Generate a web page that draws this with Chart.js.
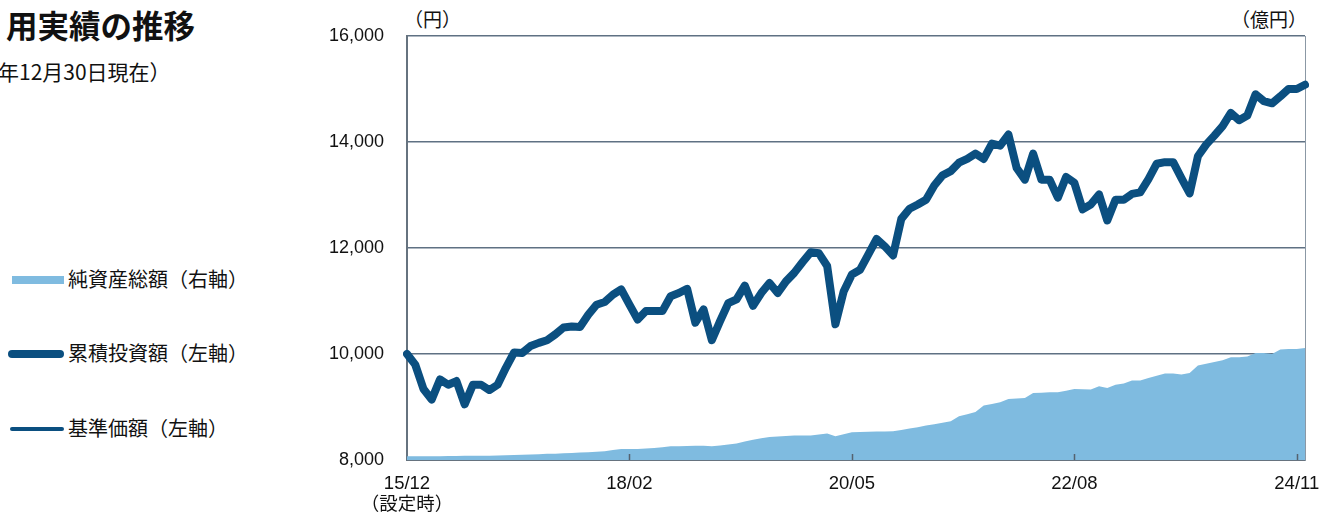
<!DOCTYPE html>
<html lang="ja">
<head>
<meta charset="utf-8">
<script src="https://cdn.jsdelivr.net/npm/chart.js@4.4.1/dist/chart.umd.min.js"></script>
<style>
  html, body { margin: 0; padding: 0; background: #fff; }
  body { width: 1321px; height: 513px; position: relative; overflow: hidden;
         font-family: 'Noto Sans CJK JP', 'Liberation Sans', sans-serif; color: #111; }
  #wrap { position: absolute; left: 0; top: 0; width: 1321px; height: 513px; }
  .txt { position: absolute; white-space: nowrap; line-height: 1; }
  .title { left: 6px; top: 9px; font-size: 31.5px; font-weight: bold; }
  .sub { left: -2px; top: 61px; font-size: 21px; }
  .unit { font-size: 19px; top: 9px; }
  .lg-text { left: 68px; font-size: 20px; }
  .swatch { position: absolute; }
</style>
</head>
<body>
<div class="txt title">用実績の推移</div>
<div class="txt sub">年12月30日現在）</div>

<div class="swatch" style="left:12px;top:276px;width:52px;height:8px;background:#7fbbe0;"></div>
<div class="txt lg-text" style="top:269px;">純資産総額（右軸）</div>
<div class="swatch" style="left:8px;top:350px;width:56px;height:8px;border-radius:4px;background:#0b4f80;"></div>
<div class="txt lg-text" style="top:343px;">累積投資額（左軸）</div>
<div class="swatch" style="left:10px;top:427px;width:54px;height:4px;border-radius:2px;background:#0b4f80;"></div>
<div class="txt lg-text" style="top:418px;">基準価額（左軸）</div>

<div class="txt unit" style="left:404px;">（円）</div>
<div class="txt unit" style="right:14px;">（億円）</div>

<div id="wrap"><canvas id="chartId"></canvas></div>

<script>
// month-end dates, first entry is the launch date (設定時)
const months = [
    '15/12',
    '15/12',
    '16/01', '16/02', '16/03', '16/04', '16/05', '16/06', '16/07', '16/08', '16/09', '16/10', '16/11', '16/12',
    '17/01', '17/02', '17/03', '17/04', '17/05', '17/06', '17/07', '17/08', '17/09', '17/10', '17/11', '17/12',
    '18/01', '18/02', '18/03', '18/04', '18/05', '18/06', '18/07', '18/08', '18/09', '18/10', '18/11', '18/12',
    '19/01', '19/02', '19/03', '19/04', '19/05', '19/06', '19/07', '19/08', '19/09', '19/10', '19/11', '19/12',
    '20/01', '20/02', '20/03', '20/04', '20/05', '20/06', '20/07', '20/08', '20/09', '20/10', '20/11', '20/12',
    '21/01', '21/02', '21/03', '21/04', '21/05', '21/06', '21/07', '21/08', '21/09', '21/10', '21/11', '21/12',
    '22/01', '22/02', '22/03', '22/04', '22/05', '22/06', '22/07', '22/08', '22/09', '22/10', '22/11', '22/12',
    '23/01', '23/02', '23/03', '23/04', '23/05', '23/06', '23/07', '23/08', '23/09', '23/10', '23/11', '23/12',
    '24/01', '24/02', '24/03', '24/04', '24/05', '24/06', '24/07', '24/08', '24/09', '24/10', '24/11', '24/12'
];

// which months get a label on the x axis
const tickIndex = [0, 27, 54, 81, 108];
const yTicks = [8000, 10000, 12000, 14000, 16000];

// 累積投資額 (円)
const cumulativeInvest = [
    10000, 9800, 9340, 9140, 9520, 9420, 9490, 9050, 9420, 9420,
    9320, 9420, 9740, 10030, 10020, 10150, 10210, 10260, 10370, 10500,
    10520, 10510, 10740, 10930, 10980, 11120, 11220, 10930, 10650, 10810,
    10810, 10810, 11090, 11150, 11230, 10590, 10840, 10260, 10620, 10960,
    11030, 11290, 10910, 11150, 11340, 11150, 11370, 11530, 11730, 11920,
    11900, 11660, 10560, 11180, 11500, 11590, 11880, 12170, 12030, 11860,
    12550, 12740, 12820, 12910, 13180, 13370, 13450, 13610, 13680, 13780,
    13680, 13970, 13930, 14140, 13510, 13290, 13780, 13290, 13290, 12950,
    13340, 13230, 12730, 12820, 13010, 12520, 12910, 12910, 13020, 13050,
    13300, 13590, 13620, 13620, 13320, 13030, 13730, 13950, 14120, 14300,
    14550, 14410, 14500, 14900, 14770, 14730, 14860, 15000, 15000, 15080
];

// 基準価額 (円) - sits right under the thick line in the picture
const basePrice = [
    10000, 9800, 9340, 9140, 9520, 9420, 9490, 9050, 9420, 9420,
    9320, 9420, 9740, 10030, 10020, 10150, 10210, 10260, 10370, 10500,
    10520, 10510, 10740, 10930, 10980, 11120, 11220, 10930, 10650, 10810,
    10810, 10810, 11090, 11150, 11230, 10590, 10840, 10260, 10620, 10960,
    11030, 11290, 10910, 11150, 11340, 11150, 11370, 11530, 11730, 11920,
    11900, 11660, 10560, 11180, 11500, 11590, 11880, 12170, 12030, 11860,
    12550, 12740, 12820, 12910, 13180, 13370, 13450, 13610, 13680, 13780,
    13680, 13970, 13930, 14140, 13510, 13290, 13780, 13290, 13290, 12950,
    13340, 13230, 12730, 12820, 13010, 12520, 12910, 12910, 13020, 13050,
    13300, 13590, 13620, 13620, 13320, 13030, 13730, 13950, 14120, 14300,
    14550, 14410, 14500, 14900, 14770, 14730, 14860, 15000, 15000, 15080
];

// 純資産総額 (億円)
const netAssets = [
    3.5, 3.5, 3.5, 3.6, 3.6, 3.8, 3.8, 3.9, 3.9, 4.0,
    4.1, 4.2, 4.4, 4.7, 4.9, 5.2, 5.5, 5.8, 6.0, 6.3,
    6.6, 7.0, 7.4, 7.7, 8.2, 9.4, 10.4, 10.4, 10.4, 10.8,
    11.3, 12.1, 12.9, 13.0, 13.2, 13.4, 13.5, 12.9, 13.7, 14.6,
    15.5, 17.4, 19.2, 20.5, 21.7, 22.2, 22.6, 23.0, 23.0, 23.1,
    24.0, 24.9, 22.4, 24.2, 26.1, 26.4, 26.6, 26.8, 26.9, 27.1,
    28.3, 29.6, 31.0, 32.5, 33.8, 35.1, 36.5, 41.2, 43.2, 45.3,
    51.3, 52.8, 54.4, 57.5, 58.0, 58.5, 63.2, 63.5, 63.9, 63.9,
    65.4, 67.0, 66.7, 66.4, 69.5, 67.9, 71.1, 72.1, 74.9, 74.9,
    77.4, 79.4, 81.5, 81.5, 80.6, 82.1, 89.1, 90.9, 92.5, 94.1,
    96.9, 96.9, 97.6, 100.9, 100.9, 100.0, 104.2, 104.7, 104.7, 105.7
];

const lineColor = '#0b4f80';
const areaColor = '#7fbbe0';
const gridColor = '#5f7183';

// small tick marks pointing up from the bottom axis
const innerTicks = {
    id: 'innerTicks',
    afterDatasetsDraw(chart) {
        const ctx = chart.ctx;
        const xScale = chart.scales.x;
        const bottom = chart.chartArea.bottom;
        ctx.save();
        ctx.strokeStyle = '#55626f';
        ctx.lineWidth = 1.5;
        tickIndex.forEach(i => {
            if (i === 0) return;
            const x = Math.round(xScale.getPixelForValue(i)) + 0.5;
            ctx.beginPath();
            ctx.moveTo(x, bottom);
            ctx.lineTo(x, bottom - 6);
            ctx.stroke();
        });
        ctx.restore();
    }
};

let canvasElement = document.getElementById('chartId').getContext('2d');

const chart = new Chart(canvasElement, {
    type: 'line',
    data: {
        labels: months,
        datasets: [
            {
                label: '累積投資額（左軸）',
                data: cumulativeInvest,
                yAxisID: 'y',
                borderColor: lineColor,
                borderWidth: 8,
                borderJoinStyle: 'round',
                borderCapStyle: 'round',
                pointRadius: 0,
                tension: 0,
                order: 1
            },
            {
                label: '基準価額（左軸）',
                data: basePrice,
                yAxisID: 'y',
                borderColor: lineColor,
                borderWidth: 3,
                borderJoinStyle: 'round',
                pointRadius: 0,
                tension: 0,
                order: 2
            },
            {
                label: '純資産総額（右軸）',
                data: netAssets,
                yAxisID: 'y2',
                borderWidth: 0,
                backgroundColor: areaColor,
                fill: 'start',
                pointRadius: 0,
                tension: 0,
                order: 3
            }
        ]
    },
    options: {
        responsive: true,
        maintainAspectRatio: false,
        animation: false,
        layout: { padding: { top: 36, left: 0, right: 0, bottom: 0 } },
        plugins: {
            legend: { display: false },
            tooltip: { enabled: false }
        },
        scales: {
            x: {
                offset: false,
                grid: { drawOnChartArea: false, drawTicks: false },
                border: { display: true, color: '#66737f', width: 2 },
                ticks: {
                    autoSkip: false,
                    maxRotation: 0,
                    padding: 14,
                    color: '#111',
                    font: { family: "'Liberation Sans', 'Noto Sans CJK JP'", size: 18.5, lineHeight: 1.1 },
                    callback: function (value, index) {
                        if (!tickIndex.includes(index)) return null;
                        if (index === 0) return [months[0], '（設定時）'];
                        return months[index];
                    }
                },
                afterFit(scale) {
                    scale.height = 53;
                    scale.paddingLeft = 0;
                    scale.paddingRight = 0;
                }
            },
            y: {
                position: 'left',
                min: 8000,
                max: 16000,
                afterBuildTicks(scale) {
                    scale.ticks = yTicks.map(v => ({ value: v }));
                },
                grid: { color: gridColor, lineWidth: 1.5, drawTicks: false },
                border: { display: true, color: '#66737f', width: 2 },
                ticks: {
                    padding: 23,
                    color: '#111',
                    font: { family: "'Liberation Sans', Arial", size: 18 },
                    callback: v => v.toLocaleString('en-US')
                },
                afterFit(scale) { scale.width = 407; }
            },
            y2: {
                position: 'right',
                min: 0,
                max: 400,
                grid: { drawOnChartArea: false, drawTicks: false },
                border: { display: true, color: '#8b98a5', width: 1 },
                ticks: { display: false },
                afterFit(scale) { scale.width = 16; }
            }
        }
    },
    plugins: [innerTicks]
});
</script>
</body>
</html>
